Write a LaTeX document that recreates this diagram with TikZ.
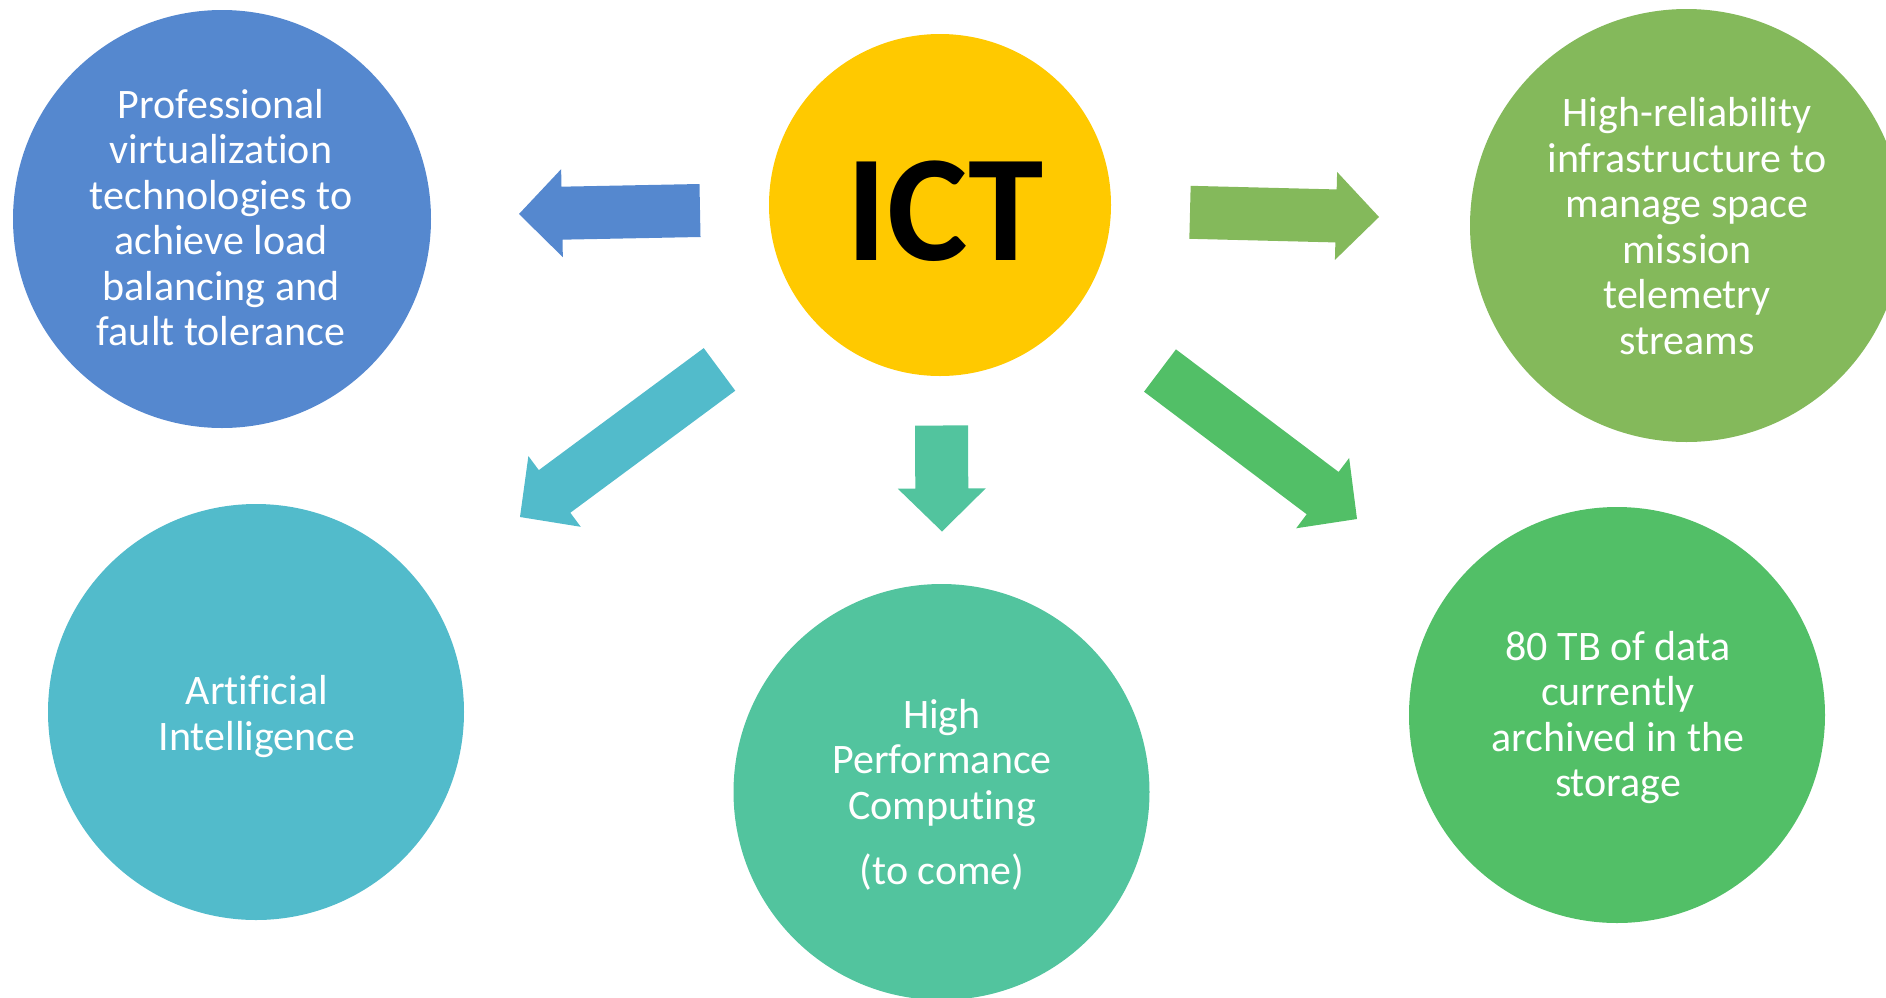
\documentclass[tikz,border=0pt]{standalone}
\usepackage{fontspec}
\setmainfont[Ligatures=NoCommon]{Carlito}
\usetikzlibrary{calc}

\definecolor{cBlue}{HTML}{5588CF}
\definecolor{cGold}{HTML}{FFC900}
\definecolor{cOlive}{HTML}{84B95B}
\definecolor{cCyan}{HTML}{52BBCB}
\definecolor{cTeal}{HTML}{52C49E}
\definecolor{cGreen}{HTML}{52BF67}

% centred lines; the baseline of the box is that of the first line
\newcommand{\stacklines}[1]{\begin{tabular}[t]{@{}c@{}}#1\end{tabular}}

% block arrow from tail #1 to tip #2, filled with #3
\newcommand{\blockarrow}[3]{%
  \path coordinate (hb) at ($(#2)!21.5pt!(#1)$);
  \fill[#3] ($(#1)!13.25pt!90:(#2)$) -- ($(hb)!13.25pt!90:(#2)$)
    -- ($(hb)!22pt!90:(#2)$) -- (#2) -- ($(hb)!22pt!-90:(#2)$)
    -- ($(hb)!13.25pt!-90:(#2)$) -- ($(#1)!13.25pt!-90:(#2)$) -- cycle;}

\begin{document}
\begin{tikzpicture}[x=0.5pt,y=-0.5pt,
  disc/.style={circle,inner sep=0pt,minimum size=#1},
  caption/.style={text=white,inner sep=0pt,anchor=base,
    font=\fontsize{21}{22.75}\selectfont}]
\useasboundingbox (0,0) rectangle (1886,997);
\clip (0,0) rectangle (1886,997);

% discs
\node[disc=209pt,fill=cBlue]    (virt) at (222,219) {};
\node[disc=171pt,fill=cGold]    (ict)  at (940,205) {};
\node[disc=216.5pt,fill=cOlive] (rel)  at (1686.5,225.5) {};
\node[disc=208pt,fill=cCyan]    (ai)   at (256,712) {};
\node[disc=208pt,fill=cTeal]    (hpc)  at (941.5,792) {};
\node[disc=208pt,fill=cGreen]   (sto)  at (1617,715) {};

% captions
\node[anchor=base,inner sep=0pt,font=\fontsize{76}{78}\selectfont\bfseries]
  (ictT) at (945,260) {ICT};
\node[caption] (virtT) at (221,118.3) {\stacklines{Professional\\virtualization\\technologies to\\achieve load\\balancing and\\fault tolerance}};
\node[caption] (relT) at (1687,126.8) {\stacklines{High-reliability\\infrastructure to\\manage space\\mission\\telemetry\\streams}};
\node[caption] (aiT) at (257,704.5) {\stacklines{Artificial\\Intelligence}};
\node[caption] (hpcT) at (942,728.4) {\stacklines{High\\Performance\\Computing\\[9.8pt](to come)}};
\node[caption] (stoT) at (1618,660) {\stacklines{80 TB of data\\currently\\archived in the\\storage}};

% arrow ends
\coordinate (aVirtS) at (700,210.5);   \coordinate (aVirtE) at (519,214);
\coordinate (aRelS)  at (1190,212.3);  \coordinate (aRelE)  at (1379,217);
\coordinate (aAiS)   at (719.5,369.4); \coordinate (aAiE)   at (520,517);
\coordinate (aHpcS)  at (941.5,425.5); \coordinate (aHpcE)  at (942,531.5);
\coordinate (aStoS)  at (1160,370.5);  \coordinate (aStoE)  at (1357,519);

% arrows
\blockarrow{aVirtS}{aVirtE}{cBlue}
\blockarrow{aRelS}{aRelE}{cOlive}
\blockarrow{aAiS}{aAiE}{cCyan}
\blockarrow{aHpcS}{aHpcE}{cTeal}
\blockarrow{aStoS}{aStoE}{cGreen}
\end{tikzpicture}
\end{document}
